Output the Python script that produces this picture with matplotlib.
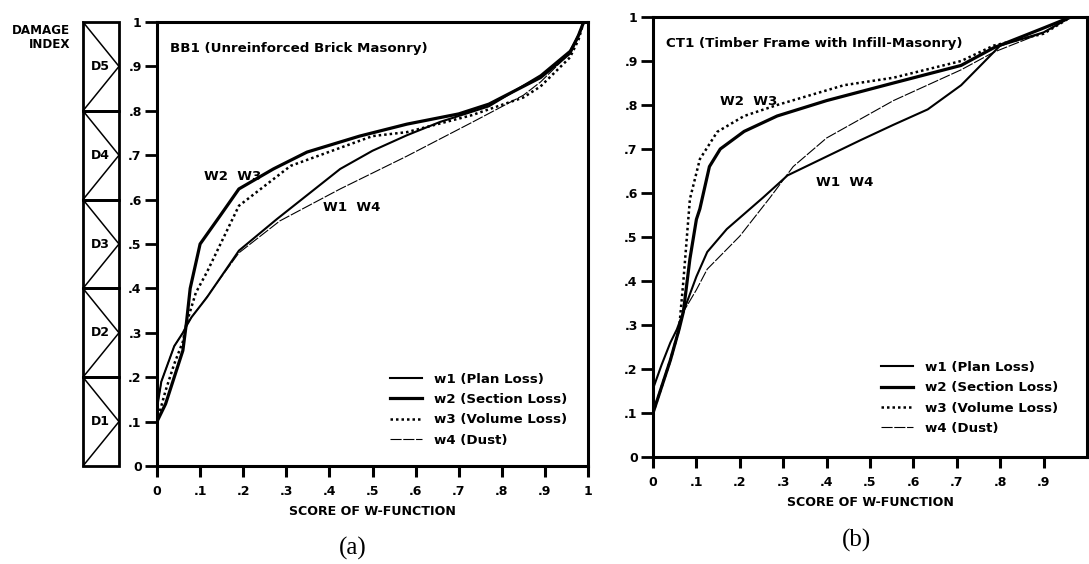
import matplotlib.pyplot as plt
from matplotlib.patches import Rectangle

plt.rcParams['font.family'] = ['DejaVu Sans']

# ---- data ----
# (a) BB1 unreinforced brick masonry
a_w1_x = [0, 0.01, 0.025, 0.04, 0.06, 0.068, 0.08, 0.1, 0.116, 0.19, 0.278, 0.425, 0.5, 0.58, 0.657, 0.77, 0.89, 0.958, 0.978, 0.99]
a_w1_y = [0.13, 0.19, 0.23, 0.27, 0.30, 0.315, 0.335, 0.36, 0.38, 0.485, 0.556, 0.669, 0.71, 0.745, 0.775, 0.81, 0.88, 0.935, 0.97, 1.0]
a_w2_x = [0, 0.02, 0.04, 0.06, 0.068, 0.077, 0.10, 0.146, 0.19, 0.27, 0.348, 0.47, 0.58, 0.70, 0.77, 0.89, 0.958, 0.978, 0.99]
a_w2_y = [0.10, 0.14, 0.20, 0.26, 0.32, 0.40, 0.50, 0.563, 0.624, 0.669, 0.707, 0.743, 0.77, 0.793, 0.815, 0.875, 0.93, 0.97, 1.0]
a_w3_x = [0, 0.02, 0.04, 0.06, 0.068, 0.09, 0.116, 0.19, 0.31, 0.50, 0.58, 0.73, 0.85, 0.89, 0.958, 0.978, 0.99]
a_w3_y = [0.10, 0.17, 0.23, 0.28, 0.32, 0.39, 0.437, 0.586, 0.676, 0.743, 0.752, 0.79, 0.83, 0.855, 0.92, 0.96, 1.0]
a_w4_x = [0, 0.01, 0.025, 0.04, 0.06, 0.068, 0.08, 0.1, 0.19, 0.285, 0.425, 0.58, 0.733, 0.85, 0.89, 0.958, 0.978, 0.99]
a_w4_y = [0.13, 0.19, 0.23, 0.27, 0.30, 0.315, 0.335, 0.36, 0.48, 0.552, 0.624, 0.698, 0.775, 0.835, 0.865, 0.93, 0.965, 1.0]

# (b) CT1 timber frame with infill-masonry
b_w1_x = [0, 0.02, 0.04, 0.055, 0.07, 0.10, 0.125, 0.17, 0.254, 0.31, 0.415, 0.478, 0.554, 0.633, 0.71, 0.785, 0.80, 0.90, 0.963]
b_w1_y = [0.155, 0.21, 0.26, 0.29, 0.33, 0.41, 0.466, 0.518, 0.59, 0.64, 0.69, 0.72, 0.755, 0.79, 0.845, 0.92, 0.935, 0.965, 1.0]
b_w2_x = [0, 0.02, 0.04, 0.06, 0.07, 0.085, 0.10, 0.108, 0.13, 0.155, 0.21, 0.286, 0.40, 0.554, 0.71, 0.785, 0.90, 0.963]
b_w2_y = [0.10, 0.16, 0.22, 0.29, 0.33, 0.45, 0.54, 0.564, 0.66, 0.70, 0.74, 0.775, 0.81, 0.85, 0.89, 0.93, 0.975, 1.0]
b_w3_x = [0, 0.02, 0.04, 0.06, 0.07, 0.085, 0.108, 0.148, 0.21, 0.286, 0.44, 0.554, 0.71, 0.785, 0.90, 0.963]
b_w3_y = [0.10, 0.16, 0.22, 0.29, 0.40, 0.586, 0.677, 0.739, 0.775, 0.80, 0.845, 0.862, 0.90, 0.935, 0.962, 1.0]
b_w4_x = [0, 0.02, 0.04, 0.06, 0.07, 0.10, 0.125, 0.20, 0.27, 0.323, 0.40, 0.554, 0.71, 0.785, 0.90, 0.963]
b_w4_y = [0.10, 0.16, 0.22, 0.29, 0.33, 0.38, 0.427, 0.502, 0.59, 0.66, 0.725, 0.81, 0.88, 0.92, 0.965, 1.0]

legend_labels = ["w1 (Plan Loss)", "w2 (Section Loss)", "w3 (Volume Loss)", "w4 (Dust)"]
damage_levels = ["D1", "D2", "D3", "D4", "D5"]
x_ticks = [0, 0.1, 0.2, 0.3, 0.4, 0.5, 0.6, 0.7, 0.8, 0.9, 1.0]
x_ticklabels = ["0", ".1", ".2", ".3", ".4", ".5", ".6", ".7", ".8", ".9", "1"]
y_ticks = x_ticks
y_ticklabels = x_ticklabels

W, H = 1089, 564
fig = plt.figure(figsize=(W / 100, H / 100), dpi=100)


def px_axes(l, t, r, b):
    return fig.add_axes([l / W, 1 - b / H, (r - l) / W, (b - t) / H])


styles = [dict(color='black', lw=1.5, ls='-'),
          dict(color='black', lw=2.3, ls='-'),
          dict(color='black', lw=1.8, ls=(0, (1, 1.2))),
          dict(color='black', lw=0.8, ls=(0, (10, 1.5)))]
tfont = dict(fontsize=9, fontweight='bold')
FS = 9.6


def setup(ax, series, title, lab23, lab14, leg_xy, show_x1=True):
    for (xs, ys), st, lab in zip(series, styles, legend_labels):
        ax.plot(xs, ys, label=lab, **st)
    ax.set_xlim(0, 1)
    ax.set_ylim(0, 1)
    for s in ax.spines.values():
        s.set_linewidth(2.2)
    ax.set_xticks(x_ticks if show_x1 else x_ticks[:-1])
    ax.set_xticklabels(x_ticklabels if show_x1 else x_ticklabels[:-1], **tfont)
    ax.set_yticks(y_ticks)
    ax.set_yticklabels(y_ticklabels, **tfont)
    ax.tick_params(axis='x', direction='out', length=8, width=2.2, pad=6)
    ax.tick_params(axis='y', direction='out', length=9, width=2.0, pad=2)
    ax.set_xlabel("SCORE OF W-FUNCTION", fontsize=9.1, fontweight='bold', labelpad=5)
    ax.text(0.03, 0.955, title, transform=ax.transAxes, fontsize=FS,
            fontweight='bold', va='top')
    ax.text(lab23[0], lab23[1], "W2  W3", fontsize=FS, fontweight='bold')
    ax.text(lab14[0], lab14[1], "W1  W4", fontsize=FS, fontweight='bold')
    ax.legend(loc='upper left', bbox_to_anchor=leg_xy, frameon=False,
              prop=dict(size=FS, weight='bold'), handlelength=2.4,
              handletextpad=0.9, labelspacing=0.55, borderpad=0, borderaxespad=0)


ax1 = px_axes(157, 22, 588, 466)
setup(ax1, [(a_w1_x, a_w1_y), (a_w2_x, a_w2_y), (a_w3_x, a_w3_y), (a_w4_x, a_w4_y)],
      "BB1 (Unreinforced Brick Masonry)", (0.11, 0.645), (0.385, 0.575), (0.54, 0.21))
ax1.text(0.455, -0.185, "(a)", transform=ax1.transAxes, fontsize=18,
         family='Liberation Serif', ha='center', va='center')

ax2 = px_axes(653, 17, 1087, 457)
setup(ax2, [(b_w1_x, b_w1_y), (b_w2_x, b_w2_y), (b_w3_x, b_w3_y), (b_w4_x, b_w4_y)],
      "CT1 (Timber Frame with Infill-Masonry)", (0.155, 0.80), (0.375, 0.615),
      (0.525, 0.218), show_x1=False)
ax2.text(0.47, -0.19, "(b)", transform=ax2.transAxes, fontsize=18,
         family='Liberation Serif', ha='center', va='center')

# damage index column
axd = px_axes(83, 22, 119, 466)
axd.set_xlim(0, 1)
axd.set_ylim(0, 1)
axd.axis('off')
for i, name in enumerate(damage_levels):
    lo, hi = i * 0.2, (i + 1) * 0.2
    mid = (lo + hi) / 2
    axd.add_patch(Rectangle((0, lo), 1, 0.2, fill=False, lw=2.0, ec='black', clip_on=False))
    axd.plot([0, 1, 0], [hi, mid, lo], color='black', lw=1.1, clip_on=False)
    axd.text(0.47, mid, name, ha='center', va='center', **tfont)
fig.text(70 / W, 1 - 24 / H, "DAMAGE\nINDEX", ha='right', va='top',
         multialignment='right', fontsize=8.6, fontweight='bold', linespacing=1.15)

fig.savefig("out.png", dpi=100)
